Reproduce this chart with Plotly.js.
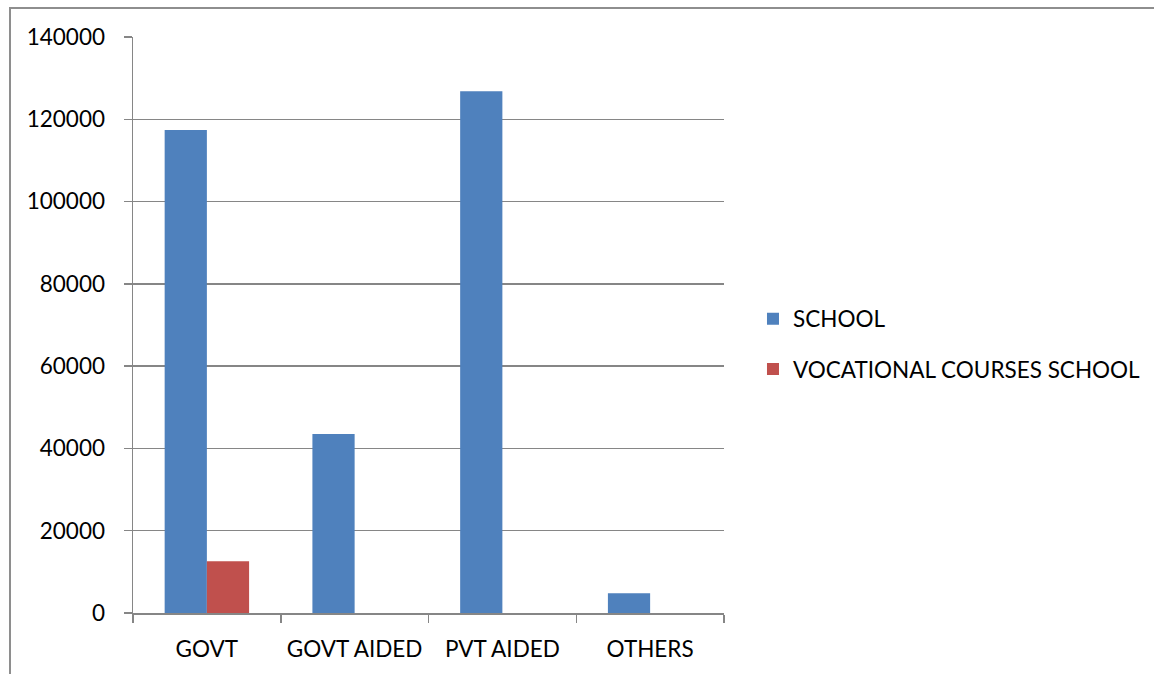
<!DOCTYPE html>
<html>
<head>
<meta charset="utf-8">
<script src="https://cdn.plot.ly/plotly-3.0.1.min.js"></script>
<style>
  html, body { margin: 0; padding: 0; background: #ffffff; }
  #frame { position: absolute; left: 9px; top: 7px; width: 1200px; height: 700px;
           border-top: 2px solid #8e8e8e; border-left: 2px solid #8e8e8e; }
  #chart { position: absolute; left: 0; top: 0; width: 1154px; height: 674px; }
</style>
</head>
<body>
<div id="frame"></div>
<div id="chart"></div>
<script>
// School counts by management type
const categories = ['GOVT', 'GOVT AIDED', 'PVT AIDED', 'OTHERS'];
const schoolCounts = [117400, 43500, 126800, 4800];
const vocationalCounts = [12600, null, null, null];
const yTicks = [0, 20000, 40000, 60000, 80000, 100000, 120000, 140000];

const FONT = 'Lato, "Liberation Sans", sans-serif';
const GRID = '#868686';

const traces = [
  {
    type: 'bar', name: 'SCHOOL', x: categories, y: schoolCounts,
    marker: { color: '#4F81BD' }, legendgroup: 'a'
  },
  {
    type: 'bar', name: 'VOCATIONAL COURSES SCHOOL', x: categories, y: vocationalCounts,
    marker: { color: '#C0504D' }, legendgroup: 'b'
  }
];

const layout = {
  width: 1154, height: 674,
  margin: { l: 133, r: 430, t: 37, b: 61 },
  paper_bgcolor: 'rgba(0,0,0,0)', plot_bgcolor: 'rgba(0,0,0,0)',
  font: { family: FONT, size: 22.5, color: '#000000' },
  barmode: 'group', bargap: 0.4286, bargroupgap: 0,
  showlegend: true,
  legend: {
    xref: 'container', yref: 'container',
    x: 0.6525, xanchor: 'left', y: 0.4896, yanchor: 'middle',
    traceorder: 'grouped', tracegroupgap: 18,
    font: { family: FONT, size: 22.5, color: '#000000' },
    itemwidth: 30
  },
  xaxis: {
    type: 'category', showline: true, linecolor: GRID, linewidth: 1.5,
    ticks: 'outside', tickson: 'boundaries', ticklen: 8, tickcolor: GRID, tickwidth: 1.5,
    tickangle: 0, automargin: false,
    ticklabelstandoff: 15, showgrid: false, fixedrange: true
  },
  yaxis: {
    range: [0, 140000], tickvals: yTicks, ticktext: yTicks.map(String),
    showline: true, linecolor: GRID, linewidth: 1.5,
    ticks: 'outside', ticklen: 8, tickcolor: GRID, tickwidth: 1.5,
    ticklabelstandoff: 14, automargin: false,
    showgrid: true, gridcolor: GRID, gridwidth: 1.5, zeroline: false, fixedrange: true
  }
};

Plotly.newPlot('chart', traces, layout, { staticPlot: true, displayModeBar: false });
</script>
</body>
</html>
